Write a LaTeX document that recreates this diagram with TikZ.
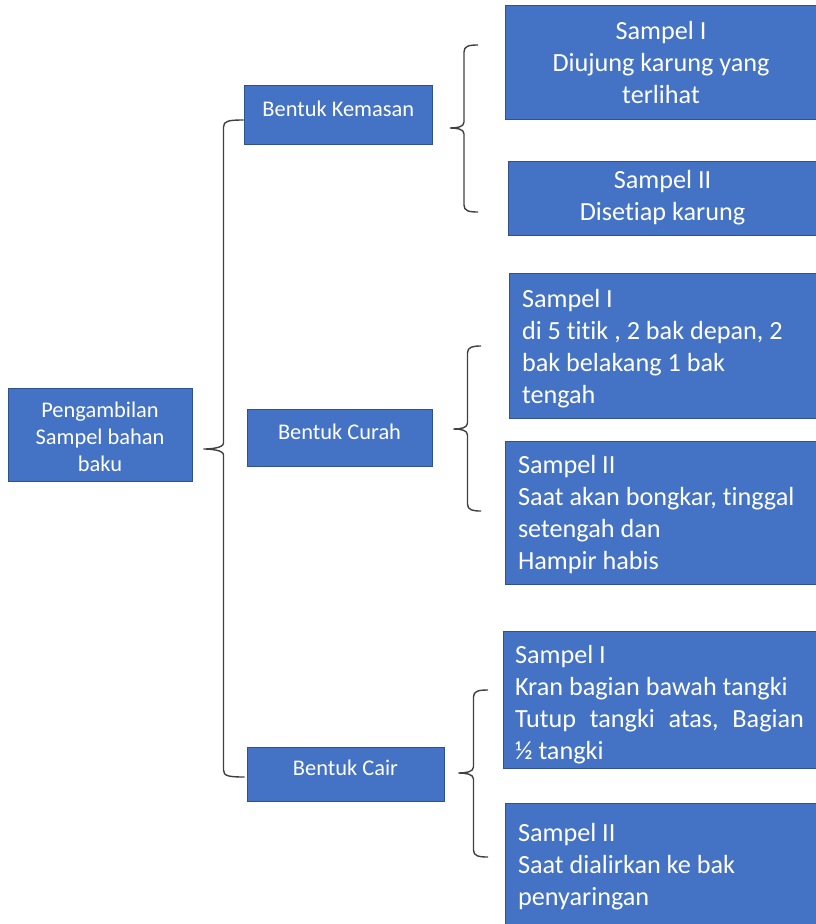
\documentclass[tikz,border=0pt]{standalone}
\usepackage{fontspec}
\setmainfont{Carlito}[Ligatures=NoCommon]
\usetikzlibrary{calc}
\definecolor{biru}{HTML}{4472C4}
\definecolor{birutua}{HTML}{2F528F}
\definecolor{garisabu}{HTML}{404040}
\newcommand\hurufkiri{\fontsize{22.4}{27}\selectfont}
\newcommand\hurufkanan{\fontsize{26.2}{32}\selectfont}
\tikzset{
  kotak/.style={draw=birutua, fill=biru, line width=1pt, text=white, inner sep=0pt},
  kotakkiri/.style={kotak, font=\hurufkiri, align=flush center},
  kotaksatu/.style={kotakkiri, text height=16pt, text depth=13pt},
  kotakkanan/.style={kotak, font=\hurufkanan, inner xsep=13pt},
  garis/.style={draw=garisabu, line width=1.4pt}
}
% kurung kurawal: #1 ujung, #2 ujung atas, #3 ujung bawah, #4 jarak ke batang
\newcommand\kurung[4]{%
  \draw[garis] let \p1=(#1), \p2=(#2), \p3=(#3), \p4=([xshift=#4]#1) in
    (\p2) .. controls (\x4+5pt,\y2) and (\x4,\y2-1pt) .. (\x4,\y2-7pt)
    -- (\x4,\y1+6pt) .. controls (\x4,\y1+1pt) and (\x1+7pt,\y1) .. (\p1)
    .. controls (\x1+7pt,\y1) and (\x4,\y1-1pt) .. (\x4,\y1-6pt)
    -- (\x4,\y3+7pt) .. controls (\x4,\y3+1pt) and (\x4+5pt,\y3) .. (\p3);
}
\begin{document}
\begin{tikzpicture}[x=1pt, y=-1pt]
  \useasboundingbox (0,0) rectangle (815,924);
  % akar dan cabang
  \node[kotakkiri, minimum width=184pt, minimum height=93pt, text width=170pt, text height=19.5pt] (akar) at (100,434.5) {Pengambilan\\Sampel bahan\\baku};
  \node[kotaksatu, minimum width=188.5pt, minimum height=59pt] (kemasan) at (338.25,114.5) {Bentuk Kemasan};
  \node[kotaksatu, minimum width=185pt, minimum height=57pt] (curah) at (339.5,437.5) {Bentuk Curah};
  \node[kotaksatu, minimum width=197pt, minimum height=54pt] (cair) at (345.5,774) {Bentuk Cair};
  % sampel
  \node[kotakkanan, align=flush center, minimum width=312pt, minimum height=114pt, text width=286pt] (kemasan1) at (661,62) {Sampel I\\Diujung karung yang\\terlihat};
  \node[kotakkanan, align=flush center, minimum width=309pt, minimum height=74pt, text width=283pt] (kemasan2) at (662.5,198) {Sampel II\\Disetiap karung};
  \node[kotakkanan, align=flush left, minimum width=308pt, minimum height=145pt, text width=282pt, text height=24pt] (curah1) at (663,345.5) {Sampel I\\di 5 titik , 2 bak depan, 2\\bak belakang 1 bak\\tengah};
  \node[kotakkanan, align=flush left, minimum width=312pt, minimum height=143pt, text width=286pt, text height=22.5pt] (curah2) at (661,512.5) {Sampel II\\Saat akan bongkar, tinggal\\setengah dan\\Hampir habis};
  \node[kotakkanan, align=flush left, inner xsep=12pt, minimum width=314pt, minimum height=137pt, text width=290pt, text height=27.5pt] (cair1) at (660,699.5) {Sampel I\\Kran bagian bawah tangki\\\makebox[289pt][s]{Tutup\hfill tangki\hfill atas,\hfill Bagian}\\½ tangki};
  \node[kotakkanan, align=flush left, minimum width=312pt, minimum height=124pt, text width=286pt, text height=20.5pt] (cair2) at (661,865) {Sampel II\\Saat dialirkan ke bak\\penyaringan};
  % titik kurung
  \coordinate (u0) at ([shift={(11,14.5)}]akar.east);
  \coordinate (a0) at ([shift={(0,5.5)}]kemasan.west);
  \coordinate (b0) at ([shift={(-2,3)}]cair.west);
  \coordinate (u1) at ([shift={(17,13.5)}]kemasan.east);
  \coordinate (a1) at (478,45);
  \coordinate (b1) at (478,212);
  \coordinate (u2) at ([shift={(21,-8.5)}]curah.east);
  \coordinate (a2) at (481,346);
  \coordinate (b2) at (481,511);
  \coordinate (u3) at ([shift={(14,-1)}]cair.east);
  \coordinate (a3) at (488,690);
  \coordinate (b3) at (488,857);
  \kurung{u0}{a0}{b0}{20}
  \kurung{u1}{a1}{b1}{14}
  \kurung{u2}{a2}{b2}{14}
  \kurung{u3}{a3}{b3}{15}
\end{tikzpicture}
\end{document}
